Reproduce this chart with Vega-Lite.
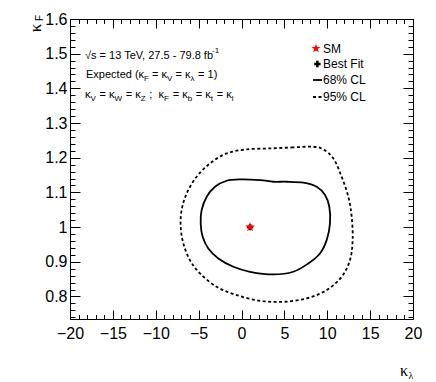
{
  "$schema": "https://vega.github.io/schema/vega-lite/v6.json",
  "width": 343,
  "height": 300,
  "autosize": {"type": "none"},
  "padding": {"left": 70, "top": 19, "right": 23, "bottom": 63},
  "background": "white",
  "config": {
    "view": {"stroke": "black", "strokeWidth": 1},
    "text": {"font": "Liberation Sans", "fontSize": 11, "color": "black", "align": "left", "baseline": "alphabetic"},
    "axis": {"tickColor": "black", "tickWidth": 1, "domain": false, "grid": false, "title": null, "labelColor": "black", "labelFont": "Liberation Sans", "labelFontSize": 16, "labelFlush": false, "labelOverlap": false, "labelBound": false}
  },
  "resolve": {"axis": {"x": "independent", "y": "independent"}},
  "datasets": {
    "c95": [
      {"i": 1, "k_lambda": 8.38, "k_F": 1.2317},
      {"i": 2, "k_lambda": 6.04, "k_F": 1.2298},
      {"i": 3, "k_lambda": 3.32, "k_F": 1.2269},
      {"i": 4, "k_lambda": 0.60, "k_F": 1.2240},
      {"i": 5, "k_lambda": -1.73, "k_F": 1.2125},
      {"i": 6, "k_lambda": -3.67, "k_F": 1.1836},
      {"i": 7, "k_lambda": -5.23, "k_F": 1.1452},
      {"i": 8, "k_lambda": -6.39, "k_F": 1.0971},
      {"i": 9, "k_lambda": -6.98, "k_F": 1.049},
      {"i": 10, "k_lambda": -7.09, "k_F": 1.001},
      {"i": 11, "k_lambda": -6.78, "k_F": 0.9529},
      {"i": 12, "k_lambda": -6.01, "k_F": 0.9048},
      {"i": 13, "k_lambda": -4.84, "k_F": 0.8664},
      {"i": 14, "k_lambda": -2.90, "k_F": 0.8279},
      {"i": 15, "k_lambda": -0.56, "k_F": 0.8039},
      {"i": 16, "k_lambda": 2.16, "k_F": 0.7875},
      {"i": 17, "k_lambda": 4.88, "k_F": 0.7846},
      {"i": 18, "k_lambda": 7.60, "k_F": 0.7943},
      {"i": 19, "k_lambda": 9.93, "k_F": 0.8183},
      {"i": 20, "k_lambda": 11.68, "k_F": 0.8567},
      {"i": 21, "k_lambda": 12.65, "k_F": 0.9048},
      {"i": 22, "k_lambda": 12.96, "k_F": 0.9625},
      {"i": 23, "k_lambda": 12.85, "k_F": 1.0298},
      {"i": 24, "k_lambda": 12.46, "k_F": 1.0875},
      {"i": 25, "k_lambda": 11.68, "k_F": 1.1452},
      {"i": 26, "k_lambda": 10.71, "k_F": 1.1981},
      {"i": 27, "k_lambda": 9.54, "k_F": 1.2240}
    ],
    "c68": [
      {"i": 1, "k_lambda": -0.17, "k_F": 1.1375},
      {"i": 2, "k_lambda": -1.73, "k_F": 1.1336},
      {"i": 3, "k_lambda": -3.09, "k_F": 1.1163},
      {"i": 4, "k_lambda": -4.06, "k_F": 1.0875},
      {"i": 5, "k_lambda": -4.65, "k_F": 1.049},
      {"i": 6, "k_lambda": -4.76, "k_F": 1.0106},
      {"i": 7, "k_lambda": -4.53, "k_F": 0.9721},
      {"i": 8, "k_lambda": -3.87, "k_F": 0.9385},
      {"i": 9, "k_lambda": -2.70, "k_F": 0.9096},
      {"i": 10, "k_lambda": -0.95, "k_F": 0.8856},
      {"i": 11, "k_lambda": 0.99, "k_F": 0.8712},
      {"i": 12, "k_lambda": 3.71, "k_F": 0.8635},
      {"i": 13, "k_lambda": 6.04, "k_F": 0.8712},
      {"i": 14, "k_lambda": 7.79, "k_F": 0.8952},
      {"i": 15, "k_lambda": 9.15, "k_F": 0.9240},
      {"i": 16, "k_lambda": 9.93, "k_F": 0.9625},
      {"i": 17, "k_lambda": 10.32, "k_F": 1.0106},
      {"i": 18, "k_lambda": 10.24, "k_F": 1.0586},
      {"i": 19, "k_lambda": 9.74, "k_F": 1.0923},
      {"i": 20, "k_lambda": 8.77, "k_F": 1.1163},
      {"i": 21, "k_lambda": 7.21, "k_F": 1.1279},
      {"i": 22, "k_lambda": 5.27, "k_F": 1.1308},
      {"i": 23, "k_lambda": 3.71, "k_F": 1.1308},
      {"i": 24, "k_lambda": 2.16, "k_F": 1.1356}
    ],
    "pt": [{"k_lambda": 1, "k_F": 1}],
    "one": [{"n": 1}]
  },
  "layer": [
    {
      "data": {"name": "c95"},
      "mark": {"type": "line", "interpolate": "cardinal-closed", "strokeDash": [3, 2.5], "strokeWidth": 1.8, "color": "black"},
      "encoding": {
        "x": {"field": "k_lambda", "type": "quantitative", "scale": {"domain": [-20, 20], "nice": false, "zero": false},
              "axis": {"orient": "bottom", "values": [-20, -15, -10, -5, 0, 5, 10, 15, 20], "tickSize": -9, "labelPadding": 15}},
        "y": {"field": "k_F", "type": "quantitative", "scale": {"domain": [0.735, 1.6], "nice": false, "zero": false},
              "axis": {"orient": "left", "values": [0.8, 0.9, 1, 1.1, 1.2, 1.3, 1.4, 1.5, 1.6], "format": "~g", "tickSize": -10, "labelPadding": 13}},
        "order": {"field": "i", "type": "quantitative"}
      }
    },
    {
      "data": {"name": "c68"},
      "mark": {"type": "line", "interpolate": "cardinal-closed", "strokeWidth": 1.8, "color": "black"},
      "encoding": {
        "x": {"field": "k_lambda", "type": "quantitative", "scale": {"domain": [-20, 20], "nice": false, "zero": false},
              "axis": {"orient": "bottom", "values": [-20,-19,-18,-17,-16,-15,-14,-13,-12,-11,-10,-9,-8,-7,-6,-5,-4,-3,-2,-1,0,1,2,3,4,5,6,7,8,9,10,11,12,13,14,15,16,17,18,19,20], "tickSize": -4.5, "labels": false}},
        "y": {"field": "k_F", "type": "quantitative", "scale": {"domain": [0.735, 1.6], "nice": false, "zero": false},
              "axis": {"orient": "left", "values": [0.74,0.76,0.78,0.8,0.82,0.84,0.86,0.88,0.9,0.92,0.94,0.96,0.98,1,1.02,1.04,1.06,1.08,1.1,1.12,1.14,1.16,1.18,1.2,1.22,1.24,1.26,1.28,1.3,1.32,1.34,1.36,1.38,1.4,1.42,1.44,1.46,1.48,1.5,1.52,1.54,1.56,1.58,1.6], "tickSize": -5, "labels": false}},
        "order": {"field": "i", "type": "quantitative"}
      }
    },
    {
      "data": {"name": "pt"},
      "mark": {"type": "point", "shape": "cross", "filled": true, "color": "black", "size": 40, "opacity": 1},
      "encoding": {
        "x": {"field": "k_lambda", "type": "quantitative", "scale": {"domain": [-20, 20], "nice": false, "zero": false},
              "axis": {"orient": "top", "values": [-20, -15, -10, -5, 0, 5, 10, 15, 20], "tickSize": -9, "labels": false}},
        "y": {"field": "k_F", "type": "quantitative", "scale": {"domain": [0.735, 1.6], "nice": false, "zero": false},
              "axis": {"orient": "right", "values": [0.8, 0.9, 1, 1.1, 1.2, 1.3, 1.4, 1.5, 1.6], "tickSize": -10, "labels": false}}
      }
    },
    {
      "data": {"name": "pt"},
      "mark": {"type": "point", "shape": "M0,-1L0.235,-0.324L0.951,-0.309L0.38,0.124L0.588,0.809L0,0.4L-0.588,0.809L-0.38,0.124L-0.951,-0.309L-0.235,-0.324Z", "filled": true, "color": "red", "size": 100, "opacity": 1},
      "encoding": {
        "x": {"field": "k_lambda", "type": "quantitative", "scale": {"domain": [-20, 20], "nice": false, "zero": false},
              "axis": {"orient": "top", "values": [-20,-19,-18,-17,-16,-15,-14,-13,-12,-11,-10,-9,-8,-7,-6,-5,-4,-3,-2,-1,0,1,2,3,4,5,6,7,8,9,10,11,12,13,14,15,16,17,18,19,20], "tickSize": -4.5, "labels": false}},
        "y": {"field": "k_F", "type": "quantitative", "scale": {"domain": [0.735, 1.6], "nice": false, "zero": false},
              "axis": {"orient": "right", "values": [0.74,0.76,0.78,0.8,0.82,0.84,0.86,0.88,0.9,0.92,0.94,0.96,0.98,1,1.02,1.04,1.06,1.08,1.1,1.12,1.14,1.16,1.18,1.2,1.22,1.24,1.26,1.28,1.3,1.32,1.34,1.36,1.38,1.4,1.42,1.44,1.46,1.48,1.5,1.52,1.54,1.56,1.58,1.6], "tickSize": -5, "labels": false}}
      }
    },
    {"data": {"name": "one"}, "mark": {"type": "text"}, "encoding": {"x": {"datum": -18.251, "type": "quantitative", "axis": null}, "y": {"datum": 1.4855, "type": "quantitative", "axis": null}, "text": {"value": "√s = 13 TeV, 27.5 - 79.8 fb"}}},
    {"data": {"name": "one"}, "mark": {"type": "text", "fontSize": 8}, "encoding": {"x": {"datum": -3.44, "type": "quantitative", "axis": null}, "y": {"datum": 1.502, "type": "quantitative", "axis": null}, "text": {"value": "-1"}}},

    {"data": {"name": "one"}, "mark": {"type": "text"}, "encoding": {"x": {"datum": -18.134, "type": "quantitative", "axis": null}, "y": {"datum": 1.4299, "type": "quantitative", "axis": null}, "text": {"value": "Expected (κ"}}},
    {"data": {"name": "one"}, "mark": {"type": "text", "fontSize": 8}, "encoding": {"x": {"datum": -11.359, "type": "quantitative", "axis": null}, "y": {"datum": 1.4212, "type": "quantitative", "axis": null}, "text": {"value": "F"}}},
    {"data": {"name": "one"}, "mark": {"type": "text"}, "encoding": {"x": {"datum": -10.426, "type": "quantitative", "axis": null}, "y": {"datum": 1.4299, "type": "quantitative", "axis": null}, "text": {"value": "= κ"}}},
    {"data": {"name": "one"}, "mark": {"type": "text", "fontSize": 8}, "encoding": {"x": {"datum": -8.676, "type": "quantitative", "axis": null}, "y": {"datum": 1.4212, "type": "quantitative", "axis": null}, "text": {"value": "V"}}},
    {"data": {"name": "one"}, "mark": {"type": "text"}, "encoding": {"x": {"datum": -7.697, "type": "quantitative", "axis": null}, "y": {"datum": 1.4299, "type": "quantitative", "axis": null}, "text": {"value": "= κ"}}},
    {"data": {"name": "one"}, "mark": {"type": "text", "fontSize": 8}, "encoding": {"x": {"datum": -5.948, "type": "quantitative", "axis": null}, "y": {"datum": 1.4212, "type": "quantitative", "axis": null}, "text": {"value": "λ"}}},
    {"data": {"name": "one"}, "mark": {"type": "text"}, "encoding": {"x": {"datum": -5.061, "type": "quantitative", "axis": null}, "y": {"datum": 1.4299, "type": "quantitative", "axis": null}, "text": {"value": "= 1)"}}},

    {"data": {"name": "one"}, "mark": {"type": "text"}, "encoding": {"x": {"datum": -18.251, "type": "quantitative", "axis": null}, "y": {"datum": 1.3722, "type": "quantitative", "axis": null}, "text": {"value": "κ"}}},
    {"data": {"name": "one"}, "mark": {"type": "text", "fontSize": 8}, "encoding": {"x": {"datum": -17.609, "type": "quantitative", "axis": null}, "y": {"datum": 1.3636, "type": "quantitative", "axis": null}, "text": {"value": "V"}}},
    {"data": {"name": "one"}, "mark": {"type": "text"}, "encoding": {"x": {"datum": -16.56, "type": "quantitative", "axis": null}, "y": {"datum": 1.3722, "type": "quantitative", "axis": null}, "text": {"value": "= κ"}}},
    {"data": {"name": "one"}, "mark": {"type": "text", "fontSize": 8}, "encoding": {"x": {"datum": -14.81, "type": "quantitative", "axis": null}, "y": {"datum": 1.3636, "type": "quantitative", "axis": null}, "text": {"value": "W"}}},
    {"data": {"name": "one"}, "mark": {"type": "text"}, "encoding": {"x": {"datum": -13.498, "type": "quantitative", "axis": null}, "y": {"datum": 1.3722, "type": "quantitative", "axis": null}, "text": {"value": "= κ"}}},
    {"data": {"name": "one"}, "mark": {"type": "text", "fontSize": 8}, "encoding": {"x": {"datum": -11.749, "type": "quantitative", "axis": null}, "y": {"datum": 1.3636, "type": "quantitative", "axis": null}, "text": {"value": "Z"}}},
    {"data": {"name": "one"}, "mark": {"type": "text"}, "encoding": {"x": {"datum": -10.746, "type": "quantitative", "axis": null}, "y": {"datum": 1.3722, "type": "quantitative", "axis": null}, "text": {"value": ";\u00a0\u00a0κ"}}},
    {"data": {"name": "one"}, "mark": {"type": "text", "fontSize": 8}, "encoding": {"x": {"datum": -9.032, "type": "quantitative", "axis": null}, "y": {"datum": 1.3636, "type": "quantitative", "axis": null}, "text": {"value": "F"}}},
    {"data": {"name": "one"}, "mark": {"type": "text"}, "encoding": {"x": {"datum": -8.029, "type": "quantitative", "axis": null}, "y": {"datum": 1.3722, "type": "quantitative", "axis": null}, "text": {"value": "= κ"}}},
    {"data": {"name": "one"}, "mark": {"type": "text", "fontSize": 8}, "encoding": {"x": {"datum": -6.28, "type": "quantitative", "axis": null}, "y": {"datum": 1.3636, "type": "quantitative", "axis": null}, "text": {"value": "b"}}},
    {"data": {"name": "one"}, "mark": {"type": "text"}, "encoding": {"x": {"datum": -5.329, "type": "quantitative", "axis": null}, "y": {"datum": 1.3722, "type": "quantitative", "axis": null}, "text": {"value": "= κ"}}},
    {"data": {"name": "one"}, "mark": {"type": "text", "fontSize": 8}, "encoding": {"x": {"datum": -3.58, "type": "quantitative", "axis": null}, "y": {"datum": 1.3636, "type": "quantitative", "axis": null}, "text": {"value": "t"}}},
    {"data": {"name": "one"}, "mark": {"type": "text"}, "encoding": {"x": {"datum": -2.892, "type": "quantitative", "axis": null}, "y": {"datum": 1.3722, "type": "quantitative", "axis": null}, "text": {"value": "= κ"}}},
    {"data": {"name": "one"}, "mark": {"type": "text", "fontSize": 8}, "encoding": {"x": {"datum": -1.143, "type": "quantitative", "axis": null}, "y": {"datum": 1.3636, "type": "quantitative", "axis": null}, "text": {"value": "l"}}},

    {"data": {"name": "one"}, "mark": {"type": "point", "shape": "M0,-1L0.235,-0.324L0.951,-0.309L0.38,0.124L0.588,0.809L0,0.4L-0.588,0.809L-0.38,0.124L-0.951,-0.309L-0.235,-0.324Z", "filled": true, "color": "red", "size": 90, "opacity": 1}, "encoding": {"x": {"datum": 8.688, "type": "quantitative", "axis": null}, "y": {"datum": 1.5149, "type": "quantitative", "axis": null}}},
    {"data": {"name": "one"}, "mark": {"type": "text", "fontSize": 12, "baseline": "middle"}, "encoding": {"x": {"datum": 9.504, "type": "quantitative", "axis": null}, "y": {"datum": 1.5149, "type": "quantitative", "axis": null}, "text": {"value": "SM"}}},
    {"data": {"name": "one"}, "mark": {"type": "point", "shape": "cross", "filled": true, "color": "black", "size": 40, "opacity": 1}, "encoding": {"x": {"datum": 8.85, "type": "quantitative", "axis": null}, "y": {"datum": 1.4702, "type": "quantitative", "axis": null}}},
    {"data": {"name": "one"}, "mark": {"type": "text", "fontSize": 12, "baseline": "middle"}, "encoding": {"x": {"datum": 9.504, "type": "quantitative", "axis": null}, "y": {"datum": 1.4702, "type": "quantitative", "axis": null}, "text": {"value": "Best Fit"}}},
    {"data": {"name": "one"}, "mark": {"type": "rule", "color": "black", "strokeWidth": 1.8}, "encoding": {"x": {"datum": 8.338, "type": "quantitative", "axis": null}, "x2": {"datum": 9.388}, "y": {"datum": 1.4241, "type": "quantitative", "axis": null}}},
    {"data": {"name": "one"}, "mark": {"type": "text", "fontSize": 12, "baseline": "middle"}, "encoding": {"x": {"datum": 9.504, "type": "quantitative", "axis": null}, "y": {"datum": 1.4241, "type": "quantitative", "axis": null}, "text": {"value": "68% CL"}}},
    {"data": {"name": "one"}, "mark": {"type": "rule", "color": "black", "strokeWidth": 1.8, "strokeDash": [3, 2.5]}, "encoding": {"x": {"datum": 8.338, "type": "quantitative", "axis": null}, "x2": {"datum": 9.388}, "y": {"datum": 1.3751, "type": "quantitative", "axis": null}}},
    {"data": {"name": "one"}, "mark": {"type": "text", "fontSize": 12, "baseline": "middle"}, "encoding": {"x": {"datum": 9.504, "type": "quantitative", "axis": null}, "y": {"datum": 1.3751, "type": "quantitative", "axis": null}, "text": {"value": "95% CL"}}},

    {"data": {"name": "one"}, "mark": {"type": "text", "font": "Liberation Serif", "fontSize": 16, "align": "center", "baseline": "middle"}, "encoding": {"x": {"datum": 18.95, "type": "quantitative", "axis": null}, "y": {"datum": 0.585, "type": "quantitative", "axis": null}, "text": {"value": "κ"}}},
    {"data": {"name": "one"}, "mark": {"type": "text", "font": "Liberation Serif", "fontSize": 10, "align": "center", "baseline": "middle"}, "encoding": {"x": {"datum": 19.767, "type": "quantitative", "axis": null}, "y": {"datum": 0.572, "type": "quantitative", "axis": null}, "text": {"value": "λ"}}},
    {"data": {"name": "one"}, "mark": {"type": "text", "font": "Liberation Serif", "fontSize": 17, "align": "center", "baseline": "middle", "angle": 270}, "encoding": {"x": {"datum": -23.965, "type": "quantitative", "axis": null}, "y": {"datum": 1.574, "type": "quantitative", "axis": null}, "text": {"value": "κ"}}},
    {"data": {"name": "one"}, "mark": {"type": "text", "font": "Liberation Sans", "fontSize": 10, "align": "center", "baseline": "middle", "angle": 270}, "encoding": {"x": {"datum": -23.5, "type": "quantitative", "axis": null}, "y": {"datum": 1.6029, "type": "quantitative", "axis": null}, "text": {"value": "F"}}}
  ]
}
